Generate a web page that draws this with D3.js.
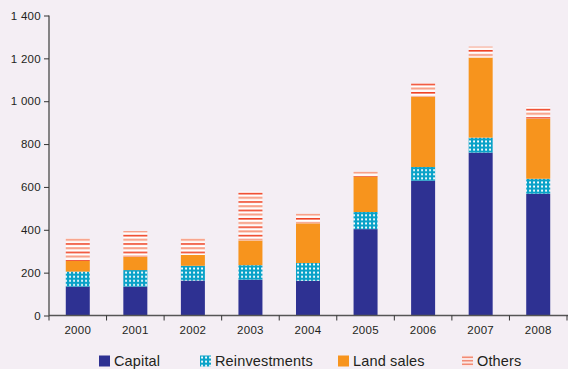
<!DOCTYPE html>
<html>
<head>
<meta charset="utf-8">
<script src="https://cdn.jsdelivr.net/npm/d3@7"></script>
<style>
  html, body { margin: 0; padding: 0; background: #f4eef4; }
  svg { display: block; font-family: "Liberation Sans", Arial, Helvetica, sans-serif; }
</style>
</head>
<body>
<svg id="chart" width="568" height="369"></svg>
<script>
// Annual funding by source (stacked)
const years = ["2000", "2001", "2002", "2003", "2004", "2005", "2006", "2007", "2008"];
const capital       = [135, 135, 163, 167, 162, 403, 629, 760, 568];
const reinvestments = [70, 77, 69, 68, 83, 80, 64, 70, 70];
const landSales     = [50, 62, 51, 115, 185, 165, 328, 374, 281];
const others        = [105, 120, 77, 228, 45, 23, 63, 51, 56];
const yTicks = [0, 200, 400, 600, 800, 1000, 1200, 1400];
const seriesNames = ["Capital", "Reinvestments", "Land sales", "Others"];

const rows = years.map((yr, i) => ({
  year: yr,
  Capital: capital[i],
  Reinvestments: reinvestments[i],
  "Land sales": landSales[i],
  Others: others[i]
}));

const svg = d3.select("#chart");
const plotLeft = 49, plotRight = 567, plotTop = 15.5, plotBottom = 315.5;

const x = d3.scaleBand().domain(years).range([plotLeft, plotRight]).padding(0);
const y = d3.scaleLinear().domain([0, 1400]).range([plotBottom, plotTop]);

// Fill patterns
const defs = svg.append("defs");
const dots = defs.append("pattern").attr("id", "dots")
  .attr("patternUnits", "userSpaceOnUse").attr("width", 4).attr("height", 4.1);
dots.append("rect").attr("width", 4).attr("height", 4.1).attr("fill", "#0aa2c8");
dots.append("rect").attr("x", 1.1).attr("y", 1.1).attr("width", 1.9).attr("height", 1.9)
  .attr("rx", 0.6).attr("fill", "#ffffff");

const stripes = defs.append("pattern").attr("id", "stripes")
  .attr("patternUnits", "userSpaceOnUse").attr("width", 8).attr("height", 8.4)
  .attr("y", plotTop);
stripes.append("rect").attr("width", 8).attr("height", 8.4).attr("fill", "#ffffff");
stripes.append("rect").attr("y", 0.9).attr("width", 8).attr("height", 1.6).attr("fill", "#ef4426");
stripes.append("rect").attr("y", 4.9).attr("width", 8).attr("height", 2.0).attr("fill", "#f79a80");

const fills = {
  Capital: "#2e3192",
  Reinvestments: "url(#dots)",
  "Land sales": "#f7941d",
  Others: "url(#stripes)"
};

const stack = d3.stack().keys(seriesNames)(rows);
const barW = 24;

svg.append("g").selectAll("g").data(stack).join("g")
  .attr("fill", d => fills[d.key])
  .selectAll("rect").data(d => d).join("rect")
  .attr("x", d => x(d.data.year) + x.bandwidth() / 2 - barW / 2)
  .attr("width", barW)
  .attr("y", d => y(d[1]))
  .attr("height", d => y(d[0]) - y(d[1]));

// Y axis
const yAxis = svg.append("g").attr("transform", `translate(${plotLeft},0)`)
  .call(d3.axisLeft(y).tickValues(yTicks).tickSize(5).tickPadding(3)
    .tickFormat(d => d3.format(",")(d).replace(/,/g, " ")));
yAxis.select(".domain").attr("stroke", "#555").attr("stroke-width", 1.4)
  .attr("d", `M0,${plotTop}V${plotBottom}`);
yAxis.selectAll(".tick line").attr("stroke", "#333");
yAxis.selectAll(".tick text").attr("fill", "#231f20").attr("font-size", 11.5)
  .attr("letter-spacing", 0.3);

// X axis: ticks between categories
const xAxis = svg.append("g").attr("transform", `translate(0,${plotBottom})`);
xAxis.append("line").attr("x1", plotLeft).attr("x2", 568).attr("y1", 0).attr("y2", 0)
  .attr("stroke", "#555").attr("stroke-width", 1.4);
xAxis.selectAll("line.sep").data(d3.range(0, years.length + 1)).join("line")
  .attr("class", "sep")
  .attr("x1", k => plotLeft + x.step() * k)
  .attr("x2", k => plotLeft + x.step() * k)
  .attr("y1", 0).attr("y2", 5).attr("stroke", "#333");
xAxis.selectAll("text").data(years).join("text")
  .attr("x", d => x(d) + x.bandwidth() / 2)
  .attr("y", 18)
  .attr("text-anchor", "middle")
  .attr("font-size", 11.5)
  .attr("letter-spacing", 0.3)
  .attr("fill", "#231f20")
  .text(d => d);

// Legend
const legendX = [99, 200, 338, 462];
const legend = svg.append("g");
seriesNames.forEach((name, i) => {
  const g = legend.append("g").attr("transform", `translate(${legendX[i]},355.5)`);
  if (name === "Others") {
    g.append("rect").attr("width", 11).attr("height", 11).attr("fill", "#fbe6e4");
    [1, 4.5, 8].forEach(s => g.append("rect").attr("y", s).attr("width", 11).attr("height", 1.5)
      .attr("fill", "#f28b75"));
  } else {
    g.append("rect").attr("width", 11).attr("height", 11).attr("fill", fills[name]);
  }
  g.append("text").attr("x", 15).attr("y", 10.3).attr("font-size", 14.5)
    .attr("letter-spacing", 0.15)
    .attr("fill", "#231f20").text(name);
});
</script>
</body>
</html>
